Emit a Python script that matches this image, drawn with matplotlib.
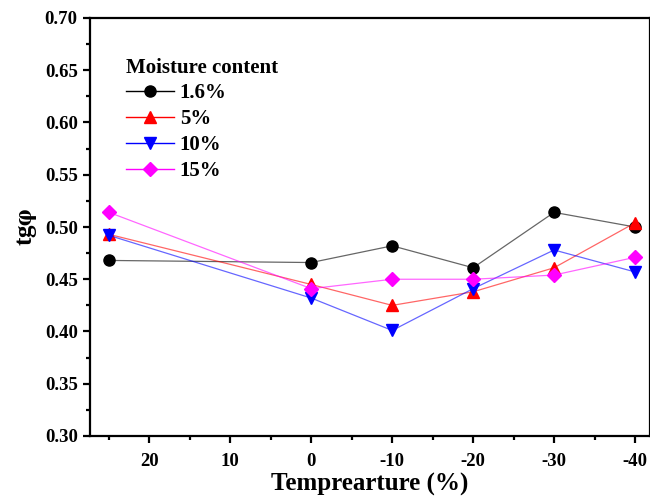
import matplotlib.pyplot as plt
from matplotlib.ticker import MultipleLocator

plt.rcParams['font.family'] = ['Liberation Serif', 'DejaVu Serif']
plt.rcParams['font.weight'] = 'bold'
plt.rcParams['mathtext.fontset'] = 'stix'
plt.rcParams['axes.unicode_minus'] = False

# data
temps = [25, 0, -10, -20, -30, -40]
labels = ['1.6%', '5%', '10%', '15%']
tg_16 = [0.468, 0.466, 0.482, 0.461, 0.514, 0.500]
tg_5 = [0.493, 0.445, 0.425, 0.438, 0.461, 0.504]
tg_10 = [0.492, 0.432, 0.401, 0.441, 0.478, 0.457]
tg_15 = [0.514, 0.441, 0.450, 0.450, 0.454, 0.471]

series = [tg_16, tg_5, tg_10, tg_15]
colors = ['black', 'red', 'blue', 'magenta']
markers = ['o', '^', 'v', 'D']
sizes = [8, 8.5, 8.5, 7]

fig = plt.figure(figsize=(6.5, 5), dpi=100)
ax = fig.add_axes([0.1377, 0.128, 0.8623, 0.836])

for vals, lab, c, m, s in zip(series, labels, colors, markers, sizes):
    ax.plot(temps, vals, color=c, lw=0.9, alpha=0.6)
    ax.plot(temps, vals, ls='none', marker=m, ms=s, color=c)
    # legend proxy
    ax.plot([], [], color=c, lw=1.0, marker=m, ms=s, label=lab)

ax.set_xlim(27.4, -41.85)
ax.set_ylim(0.30, 0.70)
ax.xaxis.set_major_locator(MultipleLocator(10))
ax.xaxis.set_minor_locator(MultipleLocator(5))
ax.yaxis.set_major_locator(MultipleLocator(0.05))
ax.yaxis.set_minor_locator(MultipleLocator(0.025))
ax.yaxis.set_major_formatter(plt.FormatStrFormatter('%.2f'))

for sp in ax.spines.values():
    sp.set_linewidth(1.6)
ax.tick_params(which='major', direction='out', length=5, width=1.6, labelsize=13.5)
ax.tick_params(which='minor', direction='out', length=3, width=1.6)
ax.tick_params(axis='x', pad=7)
for t in ax.get_xticklabels() + ax.get_yticklabels():
    t.set_fontweight('bold')

ax.set_xlabel('Temprearture (%)', fontsize=18, fontweight='bold', labelpad=2)
ax.set_ylabel(r'tg$\boldsymbol{\varphi}$', fontsize=18, fontweight='bold', labelpad=4)

leg = ax.legend(loc='upper left', bbox_to_anchor=(0.031, 0.95), frameon=False,
                title='Moisture content', prop={'size': 15, 'weight': 'bold'},
                handlelength=2.3, handletextpad=0.3, labelspacing=0.28,
                alignment='left')
leg.get_title().set_fontsize(15)
leg.get_title().set_fontweight('bold')

fig.savefig('out.png', dpi=100)
